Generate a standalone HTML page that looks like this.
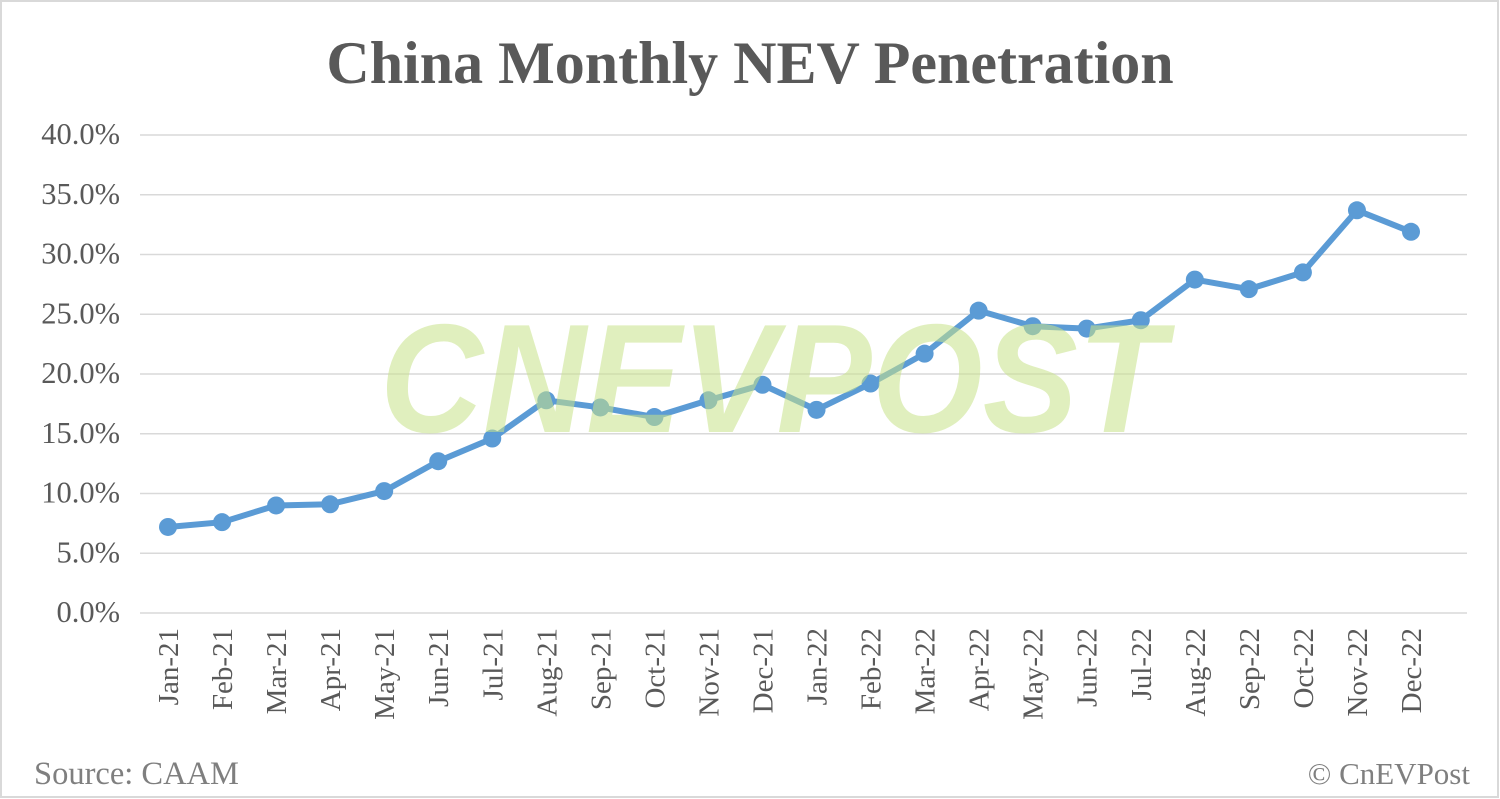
<!DOCTYPE html>
<html><head><meta charset="utf-8"><style>
body{margin:0;background:#fff}
svg{display:block}
text{font-family:"Liberation Serif",serif;fill:#595959}
</style></head><body>
<svg id="chart" width="1500" height="799">
<rect x="1" y="1" width="1497" height="796" fill="#fff" stroke="#d9d9d9" stroke-width="2"/>
<text x="750" y="83" text-anchor="middle" font-size="60" font-weight="bold">China Monthly NEV Penetration</text>
<g id="grid"></g><g id="yticks"></g><g id="xticks"></g><g id="series"></g>
<text x="380" y="432" textLength="785" lengthAdjust="spacingAndGlyphs" font-size="155" font-weight="bold" font-style="italic" style="font-family:'Liberation Sans',sans-serif;fill:#c8e28a;opacity:0.55">CNEVPOST</text>
<text x="34" y="784" font-size="32.5" style="fill:#7f7f7f">Source: CAAM</text>
<text x="1470" y="784" text-anchor="end" font-size="31" style="fill:#7f7f7f">© CnEVPost</text>
</svg>
<script>
const categories=["Jan-21","Feb-21","Mar-21","Apr-21","May-21","Jun-21","Jul-21","Aug-21","Sep-21","Oct-21","Nov-21","Dec-21","Jan-22","Feb-22","Mar-22","Apr-22","May-22","Jun-22","Jul-22","Aug-22","Sep-22","Oct-22","Nov-22","Dec-22"];
const values=[7.2,7.6,9.0,9.1,10.2,12.7,14.6,17.8,17.2,16.4,17.8,19.1,17.0,19.2,21.7,25.3,24.0,23.8,24.5,27.9,27.1,28.5,33.7,31.9];
const yTicks=[0,5,10,15,20,25,30,35,40];
const NS="http://www.w3.org/2000/svg";
const x=i=>168+i*(1411-168)/(categories.length-1);
const y=v=>613-v*(613-135)/40;
function mk(tag,attrs,parent){const e=document.createElementNS(NS,tag);for(const k in attrs)e.setAttribute(k,attrs[k]);document.getElementById(parent).appendChild(e);return e;}
yTicks.forEach(t=>{
 const l=mk('line',{x1:140,x2:1467,y1:y(t),y2:y(t),stroke:'#d9d9d9','stroke-width':1.5},'grid');
 
 
 const tx=mk('text',{x:120,y:y(t)+9,'text-anchor':'end','font-size':30.5},'yticks');
 tx.textContent=t.toFixed(1)+'%';
 
 
});
categories.forEach((c,i)=>{
 const tx=mk('text',{transform:`translate(${x(i)+10},628) rotate(-90)`,'text-anchor':'end','font-size':29},'xticks');
 tx.textContent=c;
 
 
});
const pl=mk('polyline',{points:values.map((v,i)=>x(i)+','+y(v)).join(' '),fill:'none',stroke:'#5b9bd5','stroke-width':6,'stroke-linejoin':'round'},'series');


values.forEach((v,i)=>{
 const c=mk('circle',{cx:x(i),cy:y(v),r:9,fill:'#5b9bd5'},'series');
 
 
});
</script>
</body></html>
